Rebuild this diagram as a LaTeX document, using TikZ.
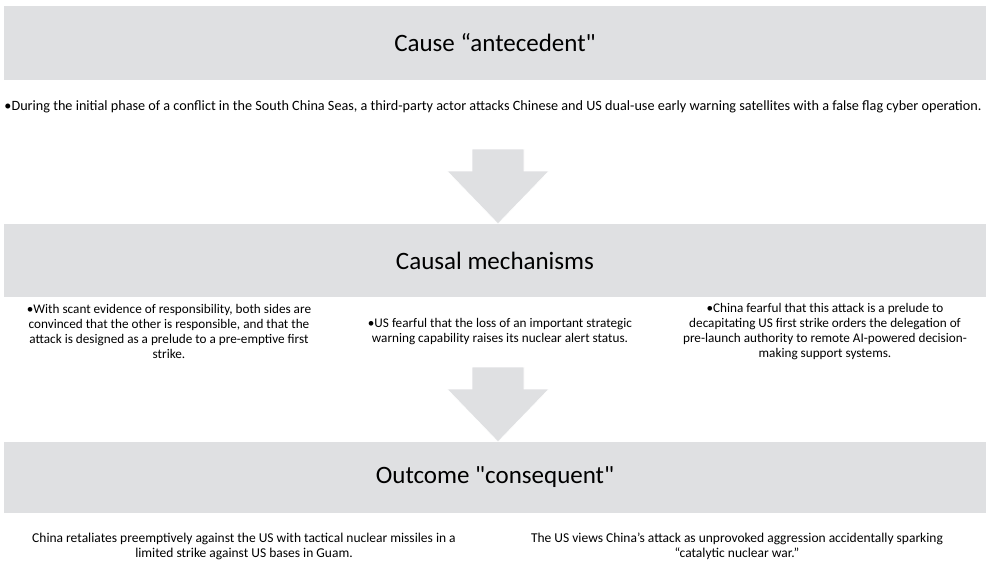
\documentclass[tikz,border=0pt]{standalone}
\usepackage{fontspec}
\setmainfont{Carlito}
\newfontfamily\plaincarlito{Carlito}
\definecolor{bandgray}{RGB}{223,224,226}
\definecolor{arrowgray}{RGB}{223,224,226}
\tikzset{
  band/.style={fill=bandgray, draw=none, minimum width=982, minimum height=#1, inner sep=0pt, font=\plaincarlito\fontsize{25}{30}\selectfont},
  bodytext/.style={align=center, inner sep=0pt, font=\fontsize{13.2}{15}\selectfont},
  leadtext/.style={align=center, inner sep=0pt, font=\fontsize{14.2}{15}\selectfont},
  outtext/.style={align=center, inner sep=0pt, font=\fontsize{13.5}{15}\selectfont},
  blockarrow/.style={fill=arrowgray, draw=white, line width=0.6pt}
}
\begin{document}
\begin{tikzpicture}[x=1pt,y=-1pt]
\useasboundingbox (0,0) rectangle (986,566);
\node[band=74] (b1) at (495,43) {Cause “antecedent"};
\node[leadtext] (t1) at (493,107) {•During the initial phase of a conflict in the South China Seas, a third-party actor attacks Chinese and US dual-use early warning satellites with a false flag cyber operation.};
\node[band=73] (b2) at (495,260.5) {Causal mechanisms};
\node[bodytext] (m1) at (169,331.5) {•With scant evidence of responsibility, both sides are\\convinced that the other is responsible, and that the\\attack is designed as a prelude to a pre-emptive first\\strike.};
\node[bodytext] (m2) at (500,331.5) {•US fearful that the loss of an important strategic\\warning capability raises its nuclear alert status.};
\node[bodytext] (m3) at (825,331.5) {•China fearful that this attack is a prelude to\\decapitating US first strike orders the delegation of\\pre-launch authority to remote AI-powered decision-\\making support systems.};
\node[band=71] (b3) at (495,477.5) {Outcome "consequent"};
\node[outtext] (o1) at (244,546.5) {China retaliates preemptively against the US with tactical nuclear missiles in a\\limited strike against US bases in Guam.};
\node[outtext] (o2) at (737,546.5) {The US views China’s attack as unprovoked aggression accidentally sparking\\“catalytic nuclear war.”};
% block arrows
\coordinate (a1tip) at (b2.north -| 498,0);
\coordinate (a2tip) at (b3.north -| 498,0);
\draw[blockarrow] (472,149) -- (524,149) -- (524,171) -- (549,171) -- (a1tip) -- (447,171) -- (472,171) -- cycle;
\draw[blockarrow] (472,367) -- (524,367) -- (524,389) -- (549,389) -- (a2tip) -- (447,389) -- (472,389) -- cycle;
\end{tikzpicture}
\end{document}
